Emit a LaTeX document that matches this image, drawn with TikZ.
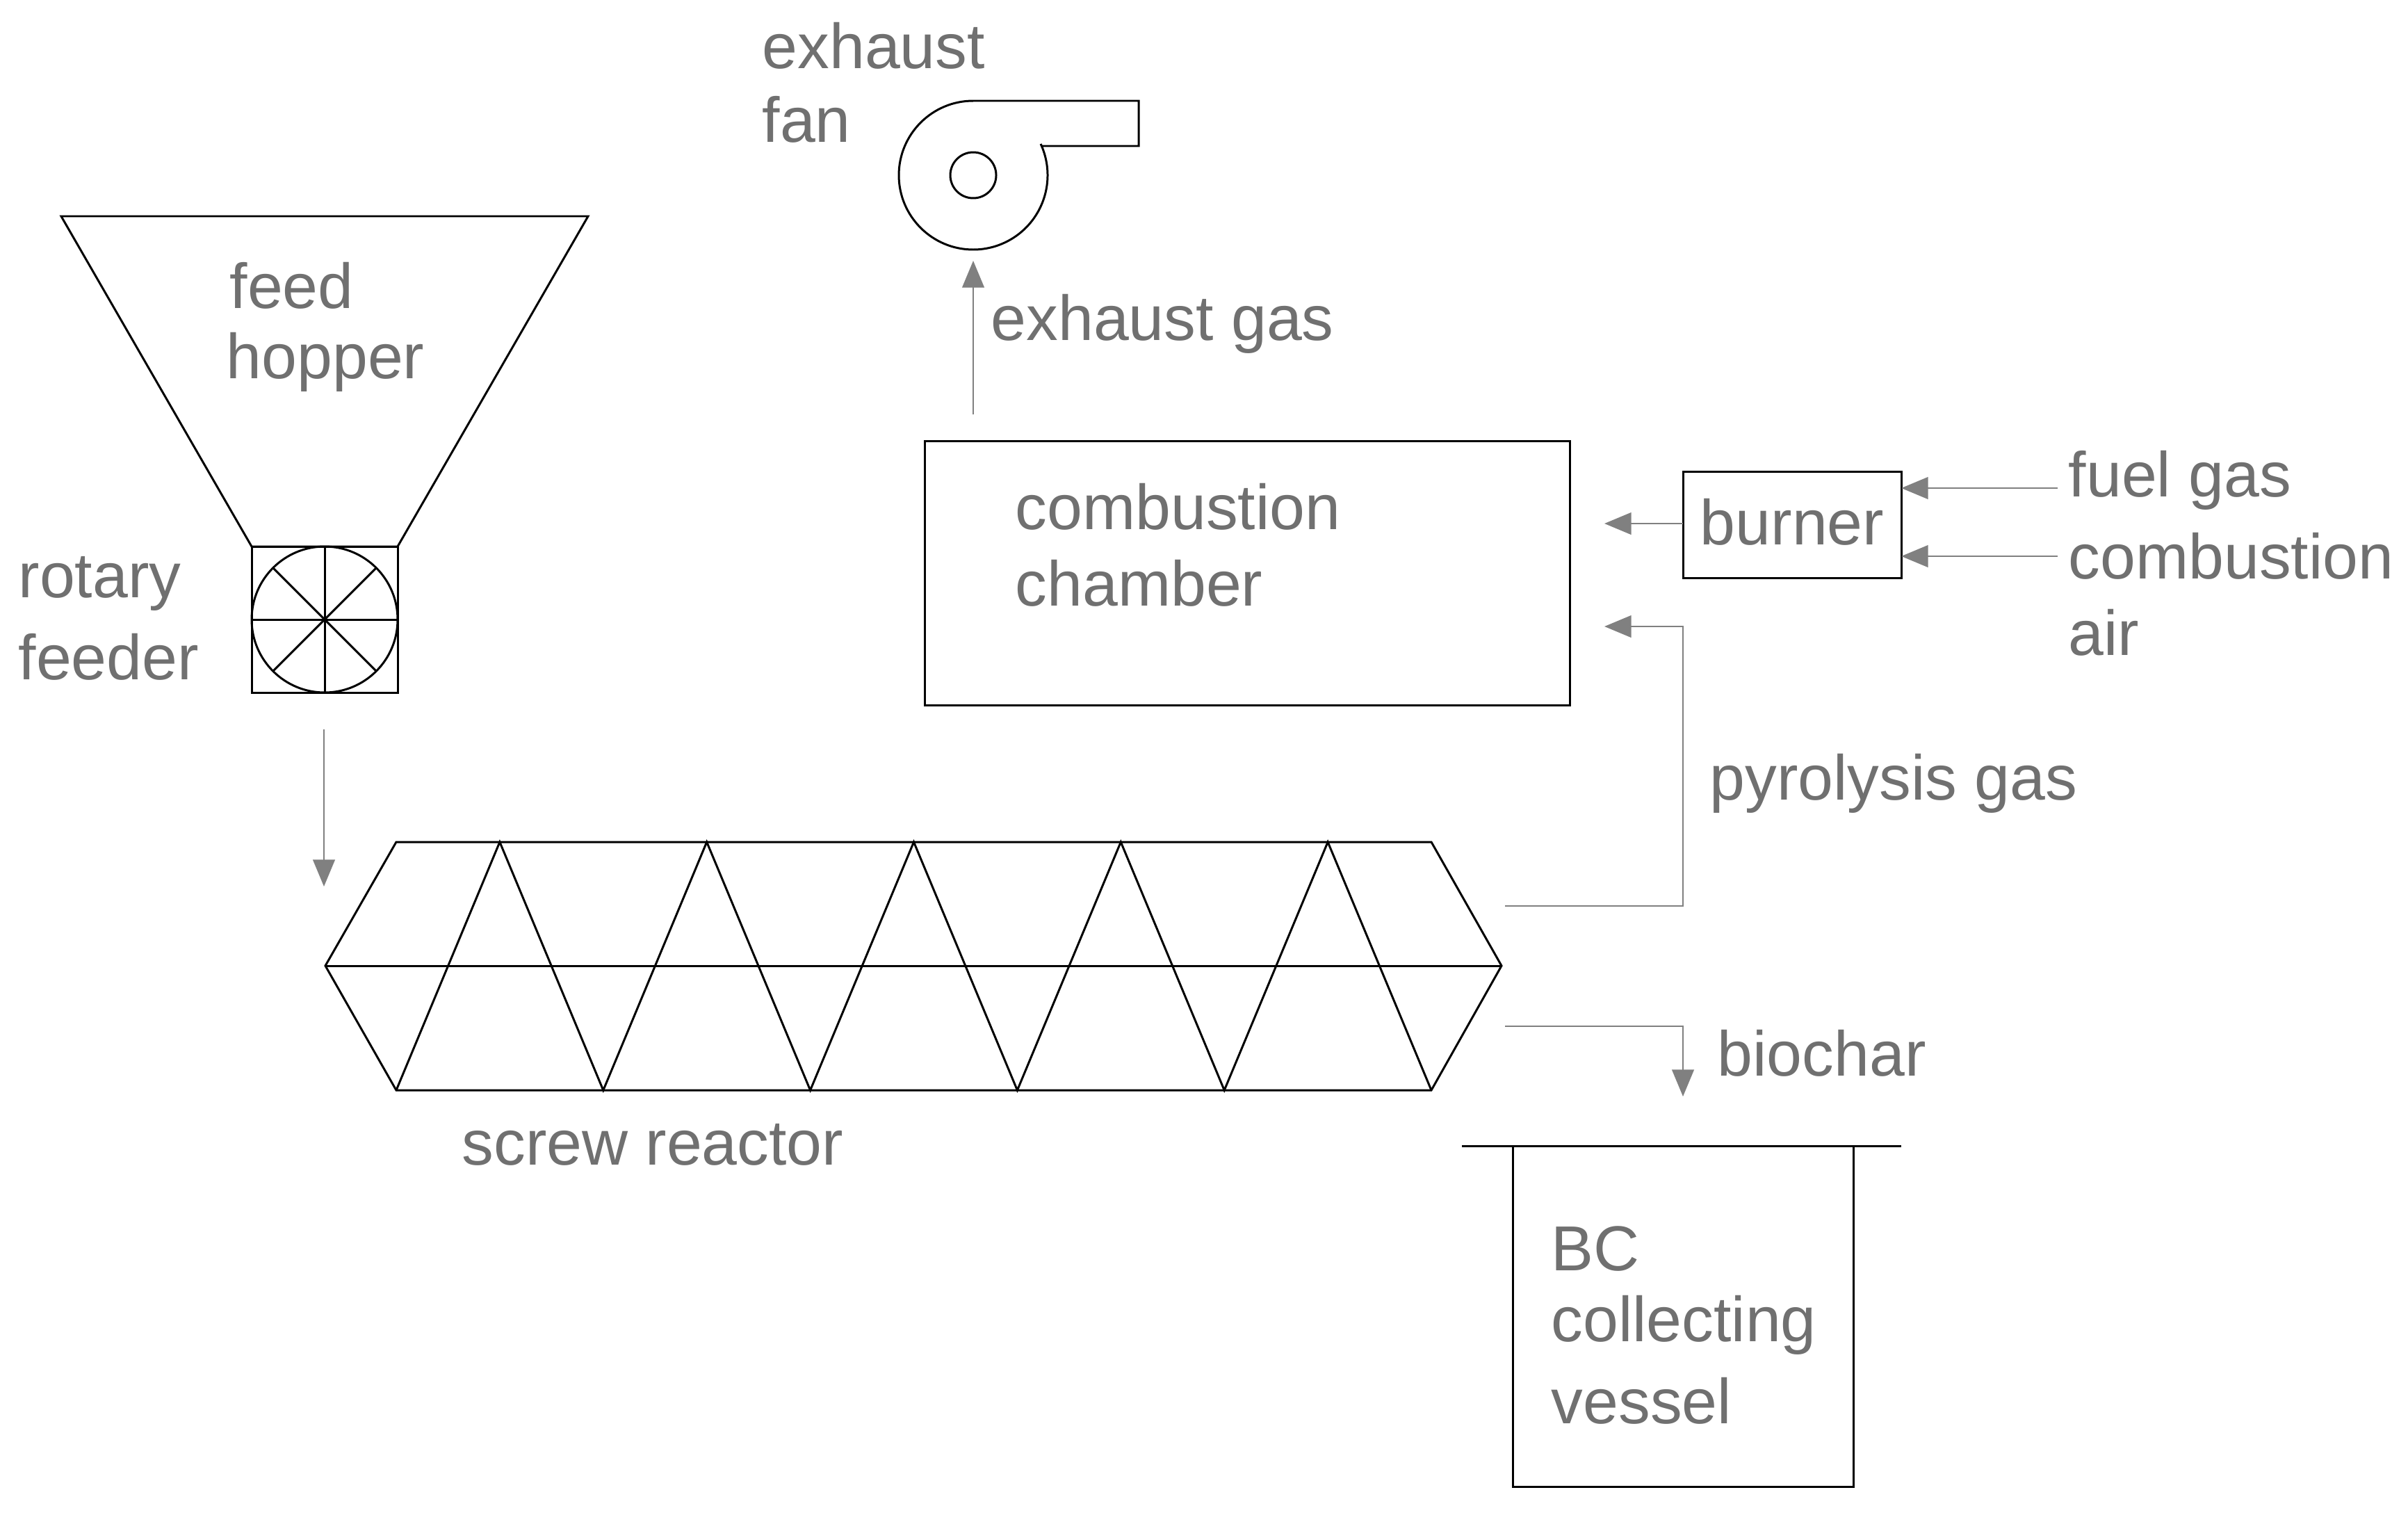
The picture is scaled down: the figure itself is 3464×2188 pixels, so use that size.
\documentclass[tikz,border=0pt]{standalone}
\usepackage{fontspec}
\setmainfont{Liberation Sans}
\usetikzlibrary{arrows.meta}
\definecolor{tg}{HTML}{707070}
\definecolor{ag}{HTML}{808080}
\begin{document}
\begin{tikzpicture}[x=0.01cm,y=-0.01cm,
  bl/.style={black,line width=0.85pt},
  ar/.style={ag,line width=0.7pt,-{Triangle[width=9pt,length=11pt]}},
  lb/.style={text=tg,font=\fontsize{26}{30}\selectfont,anchor=west,inner sep=0pt}]
\useasboundingbox (0,0) rectangle (3464,2188);
% hopper
\draw[bl] (88,311) -- (846,311) -- (572,786) -- (362,786) -- cycle;
\node[lb] (feed) at (330,411) {feed};
\node[lb] (hop) at (325,521) {hopper};
% rotary feeder
\draw[bl] (362,786) rectangle (572,996);
\draw[bl] (467,891) circle (105);
\draw[bl] (467,786) -- (467,996) (362,891) -- (572,891);
\draw[bl] (393,965) -- (541,817) (393,817) -- (541,965);
\node[lb] (rot) at (26,839) {rotary};
\node[lb] (fdr) at (26,945) {feeder};
\coordinate (f1) at (466,1049); \coordinate (f2) at (466,1275);
\draw[ar] (f1) -- (f2);
% screw reactor
\draw[bl] (570,1211) -- (2059,1211) -- (2160,1389) -- (2059,1568) -- (570,1568) -- (468,1389) -- cycle;
\draw[bl] (468,1389) -- (2160,1389);
\draw[bl] (570,1568)
  \foreach \i in {1,...,10} { -- ({570+148.9*\i}, {mod(\i,2)==1 ? 1211 : 1568}) };
\node[lb,anchor=center] (sr) at (939,1646) {screw reactor};
% combustion chamber
\draw[bl] (1330,634) rectangle (2258,1014);
\node[lb] (cc1) at (1460,729) {combustion};
\node[lb] (cc2) at (1460,839) {chamber};
\coordinate (e1) at (1400,596); \coordinate (e2) at (1400,375);
\draw[ar] (e1) -- (e2);
\node[lb] (eg) at (1425,466) {exhaust gas};
% fan
\draw[bl] (1400,252) circle (33);
\draw[bl] (1497,210) -- (1638,210) -- (1638,145) -- (1400,145) arc[start angle=-90,end angle=-384.9,radius=107];
\node[lb] (ex) at (1096,66) {exhaust};
\node[lb] (fan) at (1096,172) {fan};
% burner
\draw[bl] (2421,678) rectangle (2735,831);
\node[lb,anchor=center] (bu) at (2578,751) {burner};
\draw[ar] (2421,753) -- (2308,753);
\draw[ar] (2960,702) -- (2735,702);
\draw[ar] (2960,800) -- (2735,800);
\node[lb] (fg) at (2975,691) {fuel gas};
\node[lb] (ca) at (2975,800) {combustion};
\node[lb] (air) at (2975,910) {air};
% pyrolysis gas
\draw[ar] (2165,1303) -- (2421,1303) -- (2421,901) -- (2308,901);
\node[lb] (pg) at (2459,1127) {pyrolysis gas};
% biochar
\draw[ar] (2165,1476) -- (2421,1476) -- (2421,1577);
\node[lb] (bc) at (2470,1515) {biochar};
% vessel
\draw[bl] (2103,1648) -- (2735,1648);
\draw[bl] (2176,1648) -- (2176,2138) -- (2666,2138) -- (2666,1648);
\node[lb] (v1) at (2231,1796) {BC};
\node[lb] (v2) at (2231,1906) {collecting};
\node[lb] (v3) at (2231,2015) {vessel};
\end{tikzpicture}
\end{document}
